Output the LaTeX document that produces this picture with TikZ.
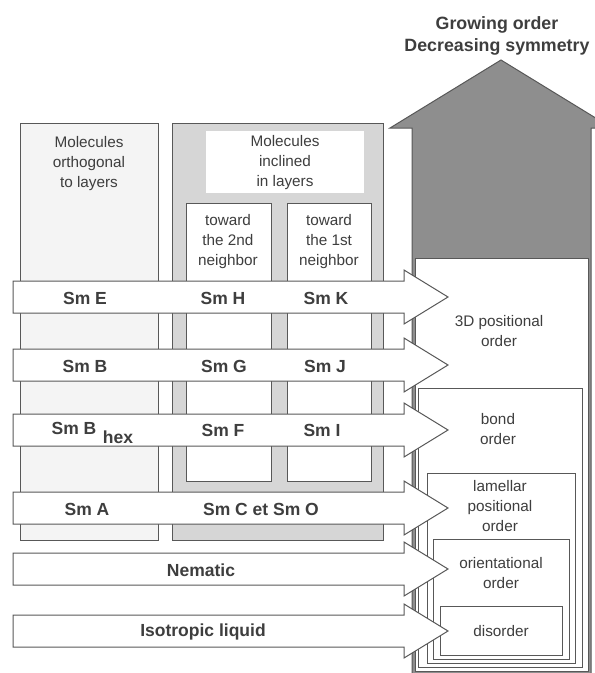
\documentclass[tikz,border=0pt]{standalone}
\usepackage{fontspec}
\setmainfont{Liberation Sans}
\definecolor{ln}{HTML}{585858}
\definecolor{tx}{HTML}{3E3E3E}
\definecolor{bigfill}{HTML}{8E8E8E}
\definecolor{boxgray}{HTML}{D6D6D6}
\definecolor{lightbox}{HTML}{F4F4F4}
\tikzset{
  ln/.style={draw=ln, line width=1pt},
  rowarr/.style={ln, fill=white, line join=miter},
  nest/.style={ln, fill=white},
  lab/.style={text=tx, font=\bfseries\fontsize{17.5}{20}\selectfont, inner sep=0pt},
  small/.style={text=tx, font=\fontsize{15.3}{20}\selectfont, align=center, inner sep=0pt},
  ttl/.style={text=tx, font=\bfseries\fontsize{17.8}{22.5}\selectfont, align=center, inner sep=0pt}
}
\newcommand\rowarrow[2]{%
  \draw[rowarr] (13,#2-16) -- (404,#2-16) -- (404,#2-27) -- (448,#2) -- (404,#2+27) -- (404,#2+16) -- (13,#2+16) -- cycle;
  \coordinate (#1) at (230,#2);}
\begin{document}
\begin{tikzpicture}[x=1pt,y=-1pt]
\useasboundingbox (0,0) rectangle (595,673);
\clip (0,0) rectangle (595,673);
% big upward arrow
\draw[ln, fill=bigfill, line join=miter] (412,680) -- (412,128) -- (390,128) -- (501,60) -- (612,128) -- (591,128) -- (591,680);
% nested boxes
\draw[nest] (415,258) rectangle (588,671);
\draw[nest] (418,388) rectangle (582,667);
\draw[nest] (427,473) rectangle (575,663);
\draw[nest] (433,539) rectangle (569,659);
\draw[nest] (440,606) rectangle (562,655);
% left boxes
\draw[ln, fill=lightbox] (20,123) rectangle (158,540);
\draw[ln, fill=boxgray] (172,123) rectangle (383,540);
\fill[white] (206,131) rectangle (364,193);
\draw[ln, fill=white] (186,203) rectangle (271,481);
\draw[ln, fill=white] (287,203) rectangle (371,481);
% row arrows
\rowarrow{rE}{297}
\rowarrow{rB}{365}
\rowarrow{rBh}{430}
\rowarrow{rA}{508}
\rowarrow{rN}{569}
\rowarrow{rI}{631}
% title
\node[ttl] (title) at (497,36) {Growing order\\Decreasing symmetry};
% column texts
\node[small] (orth) at (89,164) {Molecules\\orthogonal\\to layers};
\node[small] (incl) at (285,163) {Molecules\\inclined\\in layers};
\node[small] (nb2) at (228,242) {toward\\the 2nd\\neighbor};
\node[small] (nb1) at (329,242) {toward\\the 1st\\neighbor};
% row labels
\node[lab] (smE) at (85,298) {Sm E};
\node[lab] (smH) at (223,298) {Sm H};
\node[lab] (smK) at (326,298) {Sm K};
\node[lab] (smB) at (85,366) {Sm B};
\node[lab] (smG) at (224,366) {Sm G};
\node[lab] (smJ) at (325,366) {Sm J};
\node[lab] (smBh) at (74,428) {Sm B};
\node[lab] (hex) at (118,437) {hex};
\node[lab] (smF) at (223,430) {Sm F};
\node[lab] (smI) at (322,430) {Sm I};
\node[lab] (smA) at (87,509) {Sm A};
\node[lab] (smC) at (261,509) {Sm C et Sm O};
\node[lab] (nem) at (201,570) {Nematic};
\node[lab] (iso) at (203,632) {Isotropic liquid};
% order texts
\node[small] (o3d) at (499,331) {3D positional\\order};
\node[small] (obond) at (498,429) {bond\\order};
\node[small] (olam) at (500,506) {lamellar\\positional\\order};
\node[small] (oori) at (501,573) {orientational\\order};
\node[small] (odis) at (501,631) {disorder};
\end{tikzpicture}
\end{document}
